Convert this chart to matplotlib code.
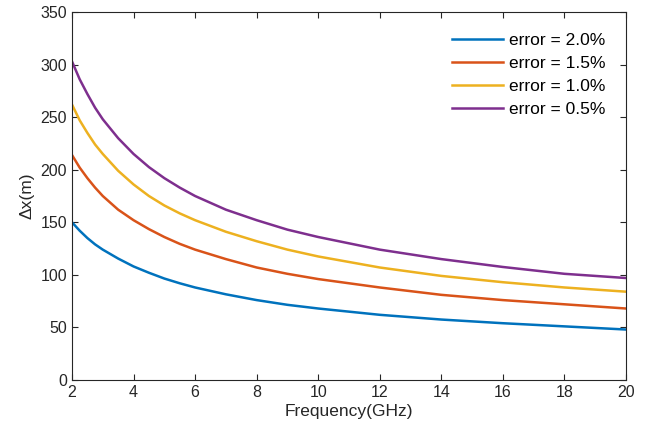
#!/usr/bin/env python3
"""Position error vs. frequency for several ranging error levels."""

import matplotlib
matplotlib.use("Agg")
import matplotlib.pyplot as plt

freq_ghz = [2, 2.25, 2.5, 2.75, 3, 3.5, 4, 4.5, 5, 5.5, 6, 7, 8, 9, 10, 12, 14, 16, 18, 20]
err_2_0 = [150, 142, 135, 129, 124, 115.5, 108, 102, 96.5, 92, 88, 81.5, 76, 71.5, 68, 62, 57.5, 54, 51, 48]
err_1_5 = [214, 202, 192, 183, 175, 162, 152, 143.5, 136, 129.5, 124, 115, 107, 101, 96, 88, 81, 76, 72, 68]
err_1_0 = [262, 247, 235, 224, 215, 199, 186, 175, 166, 158.5, 152, 141, 132, 124, 117.5, 107, 99, 93, 88, 84]
err_0_5 = [303, 286, 272, 259, 248, 230, 215, 202.5, 192, 183, 175, 162, 152, 143, 136, 124, 115, 107.5, 101, 97]

series = [
    ("error = 2.0%", err_2_0, (0.0, 0.447, 0.741)),
    ("error = 1.5%", err_1_5, (0.85, 0.325, 0.098)),
    ("error = 1.0%", err_1_0, (0.929, 0.694, 0.125)),
    ("error = 0.5%", err_0_5, (0.494, 0.184, 0.556)),
]

plt.rcParams["font.family"] = ["Liberation Sans", "DejaVu Sans"]
axis_gray = (0.15, 0.15, 0.15)

fig = plt.figure(figsize=(6.51, 4.30), dpi=100)
ax = fig.add_axes([0.1106, 0.1163, 0.8510, 0.8557])

for label, values, color in series:
    ax.plot(freq_ghz, values, color=color, linewidth=1.8, label=label)

ax.set_xlim(2, 20)
ax.set_ylim(0, 350)
ax.set_xticks(range(2, 21, 2))
ax.set_yticks(range(0, 351, 50))
ax.tick_params(direction="in", length=4, width=0.8, colors=axis_gray,
               labelsize=11.5, top=True, right=True, labeltop=False, labelright=False)
for spine in ax.spines.values():
    spine.set_color(axis_gray)
    spine.set_linewidth(0.8)

ax.set_xlabel("Frequency(GHz)", fontsize=12.5, color=axis_gray, labelpad=3)
ax.set_ylabel("\u0394x(m)", fontsize=12.5, color=axis_gray, labelpad=4)

ax.legend(loc="upper right", frameon=False, fontsize=12.5, handlelength=2.9,
          handletextpad=0.35, labelspacing=0.45, borderaxespad=0.8)

fig.savefig("out.png", dpi=100)
